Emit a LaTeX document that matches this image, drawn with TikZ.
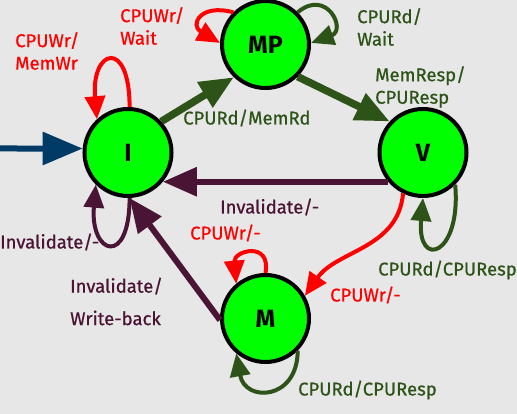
\documentclass[tikz,border=0pt]{standalone}
\usepackage{fontspec}
\setmainfont{Fira Sans}
\newfontfamily\lblfont{Fira Sans}[FakeBold=0.7]
\usepackage{xcolor}
\usetikzlibrary{arrows.meta}

\definecolor{backgray}{HTML}{E7E7E7}
\definecolor{stategreen}{HTML}{00FF00}
\definecolor{rdgreen}{HTML}{2E5318}
\definecolor{invpurple}{HTML}{4A1434}
\definecolor{wrred}{HTML}{FF0000}
\definecolor{entryblue}{HTML}{003A66}

\begin{document}
\begin{tikzpicture}[x=1pt,y=1pt,
		state/.style={circle,draw=black,line width=4pt,fill=stategreen,minimum size=87pt,inner sep=0pt,font=\fontsize{25}{25}\selectfont\bfseries},
		lbl/.style={anchor=west,align=left,inner sep=0pt,font=\lblfont\fontsize{18.5}{22.5}\selectfont},
		bigtip/.style={-{Triangle[length=34pt,width=28pt]}},
		looptip/.style={-{Triangle[length=23pt,width=20pt]}}
	]
	\fill[backgray] (0,0) rectangle (517,414);
	\useasboundingbox (0,0) rectangle (517,414);

	% states
	\node[state] (I) at (128,261.5) {I};
	\node[state] (MP) at (265.5,369.5) {MP};
	\node[state] (V) at (423,261.5) {V};
	\node[state] (M) at (265.5,95.5) {M};
	\coordinate (entry) at (0,265.5);

	% transitions between states
	\draw[entryblue,line width=6pt,-{Triangle[length=40pt,width=32pt]}] (entry) -- (I.175);
	\draw[rdgreen,line width=7.5pt,bigtip] (I.43) -- (MP.226);
	\draw[rdgreen,line width=7.5pt,bigtip] (MP.-45) -- (V.137);
	\draw[invpurple,line width=6pt,bigtip] (V.220) -- (I.-40);
	\draw[invpurple,line width=6pt,bigtip] (M.182) -- (I.-88);
	\draw[wrred,line width=4pt,looptip] (V.244) to[out=-95,in=55] (M.30);

	% self loops
	\draw[wrred,line width=4pt,looptip] (I.88) to[out=90,in=95,distance=70pt] (I.133);
	\draw[invpurple,line width=4pt,looptip] (I.-88) to[out=-90,in=-95,distance=70pt] (I.-135);
	\draw[wrred,line width=4pt,looptip] (MP.135) to[out=165,in=150,distance=35pt] (MP.178);
	\draw[rdgreen,line width=4pt,looptip] (MP.45) to[out=40,in=20,distance=38pt] (MP.2);
	\draw[rdgreen,line width=4pt,looptip] (V.-45) to[out=-85,in=-95,distance=72pt] (V.-90);
	\draw[wrred,line width=4pt,looptip] (M.90) to[out=80,in=95,distance=33pt] (M.130);
	\draw[rdgreen,line width=4pt,looptip] (M.-45) to[out=-90,in=-80,distance=50pt] (M.-130);

	% labels
	\node[lbl,wrred] (lIwr) at (15,363) {CPUWr/\\MemWr};
	\node[lbl,wrred] (lMPwr) at (120,388) {CPUWr/\\Wait};
	\node[lbl,rdgreen] (lMPrd) at (357,387) {CPURd/\\Wait};
	\node[lbl,rdgreen] (lIrd) at (183,296) {CPURd/MemRd};
	\node[lbl,rdgreen] (lMPresp) at (375,327) {MemResp/\\CPUResp};
	\node[lbl,invpurple] (lVinv) at (220,207) {Invalidate/-};
	\node[lbl,wrred] (lMwr) at (190,181) {CPUWr/-};
	\node[lbl,invpurple] (lIinv) at (0,172) {Invalidate/-};
	\node[lbl,invpurple] (lMinv) at (70,112.5) {Invalidate/\\[10pt]Write-back};
	\node[lbl,wrred] (lVwr) at (330,119) {CPUWr/-};
	\node[lbl,rdgreen] (lVrd) at (378,144) {CPURd/CPUResp};
	\node[lbl,rdgreen] (lMrd) at (298,24) {CPURd/CPUResp};
\end{tikzpicture}
\end{document}
